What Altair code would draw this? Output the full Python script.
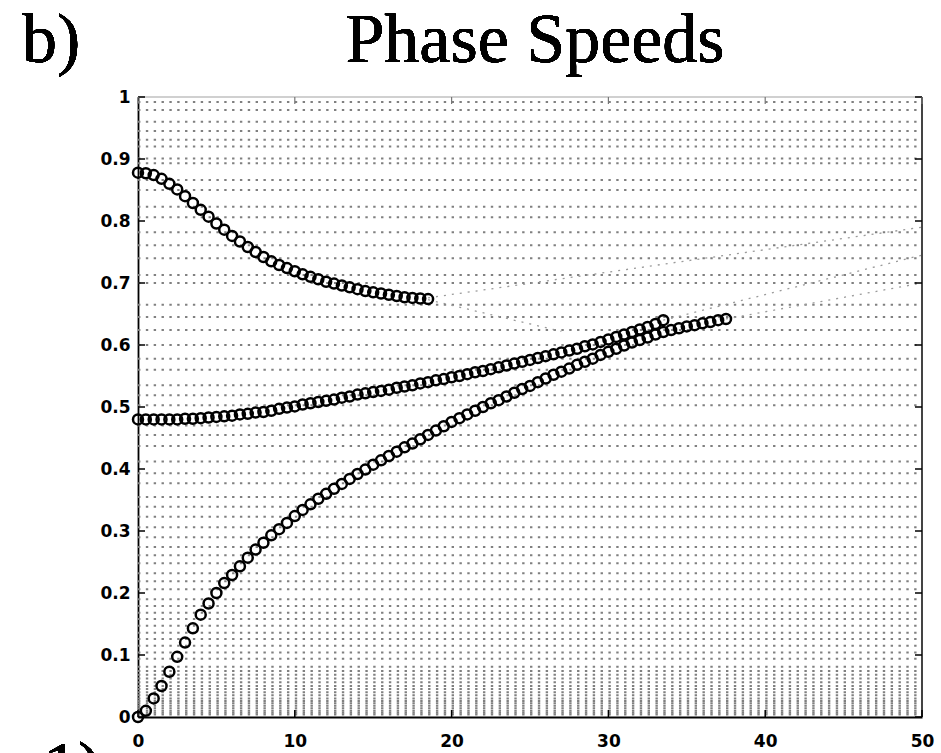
import altair as alt
import pandas as pd

# wavenumber grid of the plotted modes (marker positions)
K = [0.0, 0.5, 1.0, 1.5, 2.0, 2.5, 3.0, 3.5, 4.0, 4.5, 5.0, 5.5, 6.0, 6.5, 7.0, 7.5,
     8.0, 8.5, 9.0, 9.5, 10.0, 10.5, 11.0, 11.5, 12.0, 12.5, 13.0, 13.5, 14.0, 14.5,
     15.0, 15.5, 16.0, 16.5, 17.0, 17.5, 18.0, 18.5, 19.0, 19.5, 20.0, 20.5, 21.0,
     21.5, 22.0, 22.5, 23.0, 23.5, 24.0, 24.5, 25.0, 25.5, 26.0, 26.5, 27.0, 27.5,
     28.0, 28.5, 29.0, 29.5, 30.0, 30.5, 31.0, 31.5, 32.0, 32.5, 33.0, 33.5, 34.0,
     34.5, 35.0, 35.5, 36.0, 36.5, 37.0, 37.5]

MODE_A = [0.878, 0.877, 0.874, 0.868, 0.860, 0.851, 0.840, 0.829, 0.818, 0.807,
          0.796, 0.786, 0.776, 0.767, 0.758, 0.750, 0.742, 0.735, 0.729, 0.724,
          0.719, 0.714, 0.710, 0.706, 0.702, 0.699, 0.696, 0.693, 0.690, 0.687,
          0.685, 0.683, 0.681, 0.679, 0.677, 0.676, 0.675, 0.674]

MODE_B = [0.480, 0.480, 0.480, 0.480, 0.480, 0.480, 0.481, 0.481, 0.482, 0.483,
          0.484, 0.485, 0.486, 0.488, 0.489, 0.491, 0.492, 0.494, 0.497, 0.499,
          0.501, 0.504, 0.506, 0.508, 0.510, 0.512, 0.515, 0.517, 0.520, 0.522,
          0.524, 0.526, 0.528, 0.531, 0.533, 0.535, 0.538, 0.540, 0.543, 0.545,
          0.548, 0.550, 0.553, 0.556, 0.558, 0.561, 0.564, 0.567, 0.570, 0.573,
          0.576, 0.579, 0.582, 0.585, 0.588, 0.591, 0.594, 0.598, 0.601, 0.605,
          0.609, 0.613, 0.617, 0.621, 0.625, 0.629, 0.634, 0.640]

MODE_C = [0.000, 0.010, 0.030, 0.050, 0.073, 0.097, 0.120, 0.143, 0.165, 0.183,
          0.200, 0.216, 0.229, 0.243, 0.257, 0.270, 0.281, 0.293, 0.303, 0.313,
          0.324, 0.334, 0.343, 0.352, 0.360, 0.368, 0.376, 0.384, 0.392, 0.399,
          0.407, 0.414, 0.421, 0.428, 0.435, 0.441, 0.448, 0.455, 0.462, 0.469,
          0.476, 0.482, 0.488, 0.494, 0.500, 0.506, 0.511, 0.517, 0.523, 0.529,
          0.534, 0.540, 0.546, 0.552, 0.557, 0.562, 0.568, 0.573, 0.578, 0.584,
          0.589, 0.594, 0.599, 0.604, 0.608, 0.612, 0.617, 0.621, 0.624, 0.627,
          0.630, 0.632, 0.635, 0.637, 0.640, 0.642]

# levels of the faint dotted background modes
BG_LEVELS = [0.992, 0.979, 0.960, 0.945, 0.931, 0.920, 0.901, 0.893, 0.866, 0.850,
             0.823, 0.806, 0.782, 0.761, 0.740, 0.713, 0.700, 0.665, 0.645, 0.624,
             0.600, 0.578, 0.560, 0.535, 0.519, 0.503, 0.470, 0.455, 0.437, 0.412,
             0.393, 0.377, 0.355, 0.339, 0.323, 0.306, 0.290, 0.274, 0.261, 0.248,
             0.232, 0.219, 0.206, 0.190, 0.179, 0.168, 0.158, 0.147, 0.136, 0.126,
             0.115, 0.104, 0.094, 0.081, 0.074, 0.068, 0.062, 0.056, 0.050, 0.045,
             0.040, 0.035, 0.030, 0.026, 0.022, 0.018, 0.014, 0.010, 0.007, 0.004]

# a few sloping dotted continuations
SL_X0 = [18.5, 18.5, 33.5, 37.5]
SL_Y0 = [0.673, 0.676, 0.640, 0.642]
SL_X1 = [27.0, 50.0, 50.0, 50.0]
SL_Y1 = [0.622, 0.790, 0.745, 0.700]

X_TICKS = [0, 10, 20, 30, 40, 50]
Y_TICKS = [0, 0.1, 0.2, 0.3, 0.4, 0.5, 0.6, 0.7, 0.8, 0.9, 1]

W, H = 784, 620

rows = []
for name, vals in (("A", MODE_A), ("B", MODE_B), ("C", MODE_C)):
    for k, v in zip(K, vals):
        rows.append({"k": k, "c": v, "mode": name})
pts = pd.DataFrame(rows)
bg = pd.DataFrame({"lev": BG_LEVELS})
sl = pd.DataFrame({"x0": SL_X0, "y0": SL_Y0, "x1": SL_X1, "y1": SL_Y1})
xt = pd.DataFrame({"t": X_TICKS})
yt = pd.DataFrame({"t": Y_TICKS})

xscale = alt.Scale(domain=[0, 50], nice=False, zero=False)
yscale = alt.Scale(domain=[0, 1], nice=False, zero=False)

lab = dict(labelFont="DejaVu Sans", labelFontWeight="bold", labelFontSize=17,
           labelColor="black", ticks=False, grid=False, domainColor="black",
           domainWidth=1.8, title=None, format="~g")
xaxis = alt.Axis(values=X_TICKS, labelPadding=16, labelFlush=False, **lab)
yaxis = alt.Axis(values=Y_TICKS, labelPadding=8, labelFlush=False, **lab)

DASH = [2.4, 5.44]

bg_layer = alt.Chart(bg).mark_rule(color="#808080", strokeWidth=2.0,
                                    strokeDash=DASH).encode(
    y=alt.Y("lev:Q", scale=yscale, axis=yaxis),
    x=alt.X(datum=0, scale=xscale, axis=xaxis),
    x2=alt.X2(datum=50),
)

sl_layer = alt.Chart(sl).mark_rule(color="#9a9a9a", strokeWidth=1.3,
                                    strokeDash=[2, 6]).encode(
    x=alt.X("x0:Q", scale=xscale), y=alt.Y("y0:Q", scale=yscale),
    x2="x1:Q", y2="y1:Q",
)

pt_layer = alt.Chart(pts).mark_point(shape="circle", filled=False, color="black",
                                      size=100, strokeWidth=2.5, opacity=1).encode(
    x=alt.X("k:Q", scale=xscale),
    y=alt.Y("c:Q", scale=yscale),
    detail="mode:N",
)

right_border = alt.Chart(yt).mark_rule(color="#444", strokeWidth=1.5).encode(
    x=alt.value(W), y=alt.value(0), y2=alt.value(H))
top_border = alt.Chart(yt).mark_rule(color="#d0d0d0", strokeWidth=1.2).encode(
    x=alt.value(0), x2=alt.value(W), y=alt.value(0))

ytick_l = alt.Chart(yt).mark_rule(color="black", strokeWidth=1.5).encode(
    y=alt.Y("t:Q", scale=yscale), x=alt.value(0), x2=alt.value(7))
ytick_r = alt.Chart(yt).mark_rule(color="black", strokeWidth=1.5).encode(
    y=alt.Y("t:Q", scale=yscale), x=alt.value(W), x2=alt.value(W - 7))
xtick_b = alt.Chart(xt).mark_rule(color="black", strokeWidth=1.5).encode(
    x=alt.X("t:Q", scale=xscale), y=alt.value(H), y2=alt.value(H - 7))
xtick_t = alt.Chart(xt).mark_rule(color="#777", strokeWidth=1.2).encode(
    x=alt.X("t:Q", scale=xscale), y=alt.value(0), y2=alt.value(7))

serif = dict(font="Liberation Serif", fontSize=70, color="black", baseline="alphabetic")
title_txt = alt.Chart(yt).mark_text(text="Phase Speeds", align="center", **serif).encode(
    x=alt.value(397), y=alt.value(-35))
b_txt = alt.Chart(yt).mark_text(text="b)", align="left", **serif).encode(
    x=alt.value(-116), y=alt.value(-35))
one_txt = alt.Chart(yt).mark_text(text="1)", align="left", **serif).encode(
    x=alt.value(-95), y=alt.value(693))

chart = alt.layer(
    bg_layer, sl_layer, top_border, right_border,
    ytick_l, ytick_r, xtick_b, xtick_t,
    pt_layer, title_txt, b_txt, one_txt,
).properties(
    width=W, height=H,
    autosize=alt.AutoSizeParams(type="none"),
    padding={"left": 138, "top": 97, "right": 19, "bottom": 36},
    background="white",
).configure_view(strokeWidth=0)

chart.save("out.html", embed_options={"renderer": "svg", "actions": False})
